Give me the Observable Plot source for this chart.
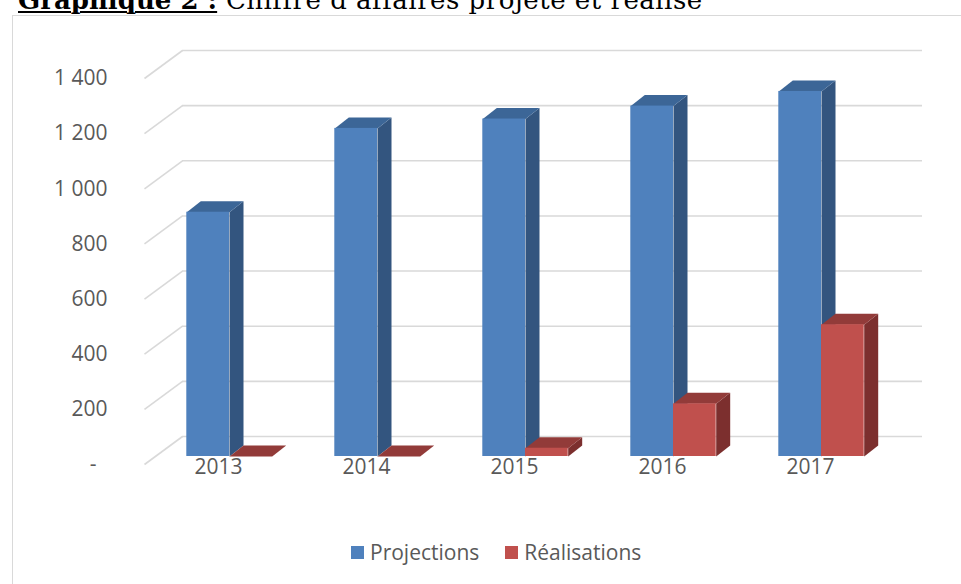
<!DOCTYPE html>
<html><head><meta charset="utf-8">
<script src="https://cdn.jsdelivr.net/npm/d3@7"></script>
<script src="https://cdn.jsdelivr.net/npm/@observablehq/plot@0.6"></script>
<style>
html,body{margin:0;padding:0;background:#fff;overflow:hidden;width:961px;height:584px;}
#title{position:absolute;left:18px;top:-13px;font-family:"DejaVu Serif",serif;font-size:26px;line-height:26px;white-space:nowrap;color:#000;}
#title b{text-decoration:underline;text-decoration-thickness:2px;text-underline-offset:2px;}
#title span{letter-spacing:0.5px;}
#frame{position:absolute;left:12px;top:15px;width:1000px;height:700px;border:1.5px solid #d9d9d9;box-sizing:border-box;}
#chart{position:absolute;left:0;top:0;}
#legend{position:absolute;left:351px;top:538px;}
#legend > div{font-family:"Open Sans",sans-serif;font-size:21px;color:#595959;margin:0;display:flex;align-items:center;min-height:0;}
#legend span{display:inline-flex;align-items:center;margin-right:26px;letter-spacing:0;}
#legend svg{margin-right:6px;}
</style></head><body>
<div id="title"><b>Graphique 2 :</b><span> Chiffre d’affaires projeté et réalisé</span></div>
<div id="frame"></div>
<div id="chart"></div>
<div id="legend"></div>
<script>
// ---- data ----
const years = ["2013", "2014", "2015", "2016", "2017"];
const series = ["Projections", "Réalisations"];
const projections = [886, 1190, 1224, 1271, 1324];
const realisations = [0, 0, 30, 191, 478];
const yTicks = [0, 200, 400, 600, 800, 1000, 1200, 1400];

// ---- styles ----
const frontColors = ["#4F81BD", "#C0504D"];
const topColors = ["#3C6697", "#923B39"];
const sideColors = ["#33557F", "#7C2F2E"];
const GRID = "#D9D9D9";

// ---- layout ----
const W = 961, H = 500, ML = 144, MR = 77, MT = 78, MB = 36;
const kx = (W - ML - MR) / years.length;         // px per x unit
const ky = (H - MT - MB) / d3.max(yTicks);       // px per y unit
const ux = px => px / kx;
const uy = px => -px / ky;
const WALL = {dx: 38, dy: -28};   // depth of the walls
const FRONT = {dx: 11, dy: -8};   // front face of bars within the depth
const BAR = {dx: 14, dy: -11};    // depth of the bars
const bw = ux(42.7);              // bar width in x units

const values = [projections, realisations];
const rows = [];
series.forEach((s, si) => years.forEach((yr, i) => rows.push({series: s, si, i, year: yr, value: values[si][i]})));
const bx1 = d => d.si === 0 ? d.i - bw : d.i;
const bx2 = d => d.si === 0 ? d.i : d.i + bw;
const bdx = ux(BAR.dx), bdy = uy(BAR.dy);

function topPts(s) {
  return rows.filter(d => d.series === s).flatMap(d => {
    const a = bx1(d), b = bx2(d), v = d.value, k = d.year;
    return [{k, x: a, y: v}, {k, x: b, y: v}, {k, x: b + bdx, y: v + bdy}, {k, x: a + bdx, y: v + bdy}];
  });
}
function sidePts(s) {
  return rows.filter(d => d.series === s).flatMap(d => {
    const b = bx2(d), v = d.value, k = d.year;
    return [{k, x: b, y: 0}, {k, x: b, y: v}, {k, x: b + bdx, y: v + bdy}, {k, x: b + bdx, y: bdy}];
  });
}

const fmt = d3.formatLocale({decimal: ",", thousands: "\u00a0", grouping: [3], currency: ["", ""]}).format(",");

const barMarks = series.flatMap((s, si) => [
  Plot.line(sidePts(s), {x: "x", y: "y", z: "k", fill: sideColors[si], stroke: "none", dx: FRONT.dx, dy: FRONT.dy}),
  Plot.line(topPts(s), {x: "x", y: "y", z: "k", fill: topColors[si], stroke: "none", dx: FRONT.dx, dy: FRONT.dy}),
  Plot.rect(rows.filter(d => d.series === s), {x1: bx1, x2: bx2, y1: () => 0, y2: "value", fill: "series", inset: 0, dx: FRONT.dx, dy: FRONT.dy})
]);

const chart = Plot.plot({
  width: W, height: H,
  marginLeft: ML, marginRight: MR, marginTop: MT, marginBottom: MB,
  style: {fontFamily: "'Open Sans', sans-serif", fontSize: "21px", color: "#595959", background: "transparent", overflow: "visible"},
  x: {domain: [-0.5, years.length - 0.5]},
  y: {domain: [0, d3.max(yTicks)]},
  color: {domain: series, range: frontColors},
  marks: [
    Plot.ruleY(yTicks, {y: d => d, x1: () => -0.5, x2: () => years.length - 0.5, dx: WALL.dx, dy: WALL.dy, stroke: GRID, strokeWidth: 1.6}),
    Plot.link(yTicks, {x1: () => -0.5, y1: d => d, x2: () => -0.5 + ux(WALL.dx), y2: d => d + uy(WALL.dy), stroke: GRID, strokeWidth: 1.6}),
    ...barMarks,
    Plot.axisY({ticks: yTicks, tickSize: 0, tickPadding: 37, label: null,
      tickFormat: d => d === 0 ? "-\u00a0\u00a0" : fmt(d), fontSize: 21}),
    Plot.axisX({ticks: years.map((_, i) => i), tickSize: 0, tickPadding: -5, label: null,
      tickFormat: i => years[i], fontSize: 21})
  ]
});
document.getElementById("chart").appendChild(chart);

const legend = Plot.legend({color: {domain: series, range: frontColors}, swatchSize: 13});
document.getElementById("legend").appendChild(legend);
</script>
</body></html>
